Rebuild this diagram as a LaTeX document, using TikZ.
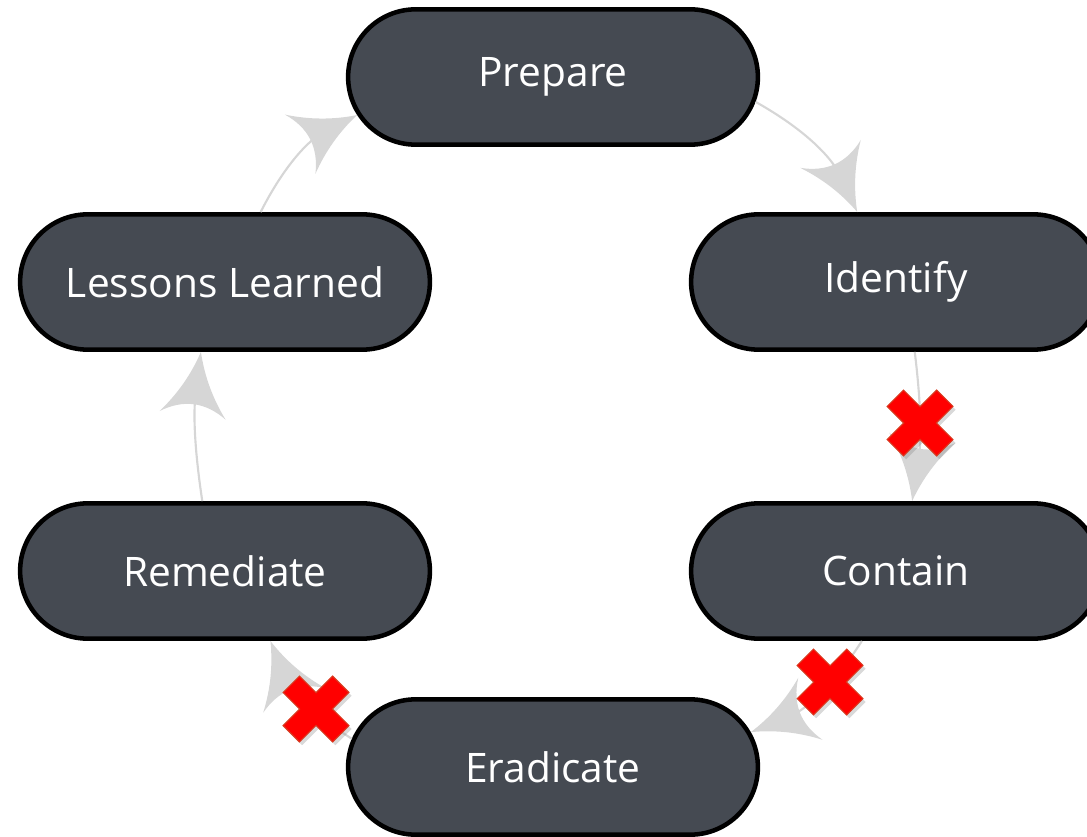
\documentclass[tikz,border=0pt]{standalone}
\usepackage{fontspec}
\setmainfont{Open Sans}
\usepackage{tikz}
\usetikzlibrary{arrows.meta,shapes.misc,shadows}
\definecolor{phase-fill}{HTML}{454A52}
\definecolor{flow-grey}{HTML}{D6D6D6}
\definecolor{stop-red}{HTML}{FF0000}
\definecolor{stop-edge}{HTML}{D9381E}

% arrow head with hollow (concave) sides
\pgfdeclarearrow{
  name = Hollow Kite,
  parameters = {\the\pgfarrowlength,\the\pgfarrowwidth},
  setup code = {
    \pgfarrowssettipend{0pt}
    \pgfarrowssetlineend{-0.6\pgfarrowlength}
    \pgfarrowssetbackend{-\pgfarrowlength}
    \pgfarrowshullpoint{0pt}{0pt}
    \pgfarrowshullpoint{-\pgfarrowlength}{0.5\pgfarrowwidth}
    \pgfarrowshullpoint{-\pgfarrowlength}{-0.5\pgfarrowwidth}
    \pgfarrowssavethe\pgfarrowlength
    \pgfarrowssavethe\pgfarrowwidth
  },
  drawing code = {
    \pgfpathmoveto{\pgfpoint{0pt}{0pt}}
    \pgfpathquadraticcurveto{\pgfpoint{-0.55\pgfarrowlength}{0.15\pgfarrowwidth}}{\pgfpoint{-\pgfarrowlength}{0.5\pgfarrowwidth}}
    \pgfpathquadraticcurveto{\pgfpoint{-0.65\pgfarrowlength}{0pt}}{\pgfpoint{-\pgfarrowlength}{-0.5\pgfarrowwidth}}
    \pgfpathquadraticcurveto{\pgfpoint{-0.55\pgfarrowlength}{-0.15\pgfarrowwidth}}{\pgfpoint{0pt}{0pt}}
    \pgfpathclose
    \pgfusepathqfill
  },
  defaults = {length=48pt, width=50pt}
}

\begin{document}
\begin{tikzpicture}[x=0.75pt, y=-0.75pt,
    phase/.style={draw=black, line width=3.4pt, fill=phase-fill, rounded rectangle,
        minimum width=314pt, minimum height=101.5pt, text=white,
        font=\fontsize{30.5}{36}\selectfont},
    flow/.style={color=flow-grey, line width=1.6pt, -{Hollow Kite}},
    stopmark/.pic={
        \filldraw[stop-red, draw=stop-edge, line width=0.8pt, rotate=45,
            drop shadow={shadow xshift=2pt, shadow yshift=-2.5pt, opacity=0.3}]
            (11.5,11.5) -- (11.5,35) -- (-11.5,35) -- (-11.5,11.5) -- (-35,11.5) -- (-35,-11.5)
            -- (-11.5,-11.5) -- (-11.5,-35) -- (11.5,-35) -- (11.5,-11.5) -- (35,-11.5) -- (35,11.5) -- cycle;
    }]
    \useasboundingbox (0,0) rectangle (1087,837);
    \clip (0,0) rectangle (1087,837);

    % the six phases
    \foreach \name/\cx/\cy/\txt in {prep/553/77/Prepare, ident/896/282/Identify,
            cont/896/571/Contain, erad/553/767/Eradicate, rem/225/571/Remediate,
            less/225/282/Lessons Learned}
        \node[phase] (\name) at (\cx,\cy) {\txt};

    % cycle arrows
    \foreach \from/\fa/\to/\ta/\bend in {prep/-7/ident/119/18, ident/-75/cont/77/8,
            cont/-116/erad/10/18, erad/172/rem/-57/18, rem/108/less/-109/8, less/63/prep/191/18}
        \draw[flow] (\from.\fa) to[bend left=\bend] (\to.\ta);

    % skipped steps
    \foreach \cx/\cy in {920/423, 830/682, 316/709}
        \pic at (\cx,\cy) {stopmark};
\end{tikzpicture}
\end{document}
